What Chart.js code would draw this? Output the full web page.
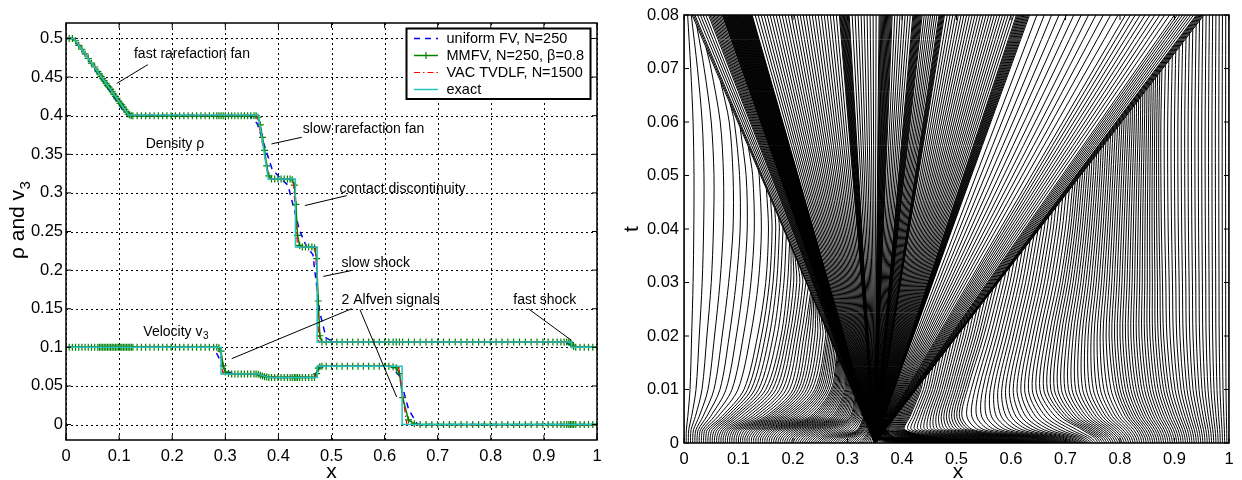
<!DOCTYPE html>
<html>
<head>
  <meta charset="utf-8">
  <style>
    body { margin: 0; background: #fff; }
    #leftChart { position: absolute; left: 0; top: 0; }
    #rightChart { position: absolute; left: 620px; top: 0; }
  </style>
</head>
<body>
  <canvas id="leftChart" width="615" height="480"></canvas>
  <canvas id="rightChart" width="622" height="480"></canvas>

  <script src="https://cdn.jsdelivr.net/npm/chart.js"></script>
  <script>
    const FONT = '"Liberation Sans", Arial, Helvetica, sans-serif';

    // ---- ticks ----
    const X_TICKS = [0, 0.1, 0.2, 0.3, 0.4, 0.5, 0.6, 0.7, 0.8, 0.9, 1];
    const X_TICK_LABELS = ['0', '0.1', '0.2', '0.3', '0.4', '0.5', '0.6', '0.7', '0.8', '0.9', '1'];
    const RHO_TICKS = [0, 0.05, 0.1, 0.15, 0.2, 0.25, 0.3, 0.35, 0.4, 0.45, 0.5];
    const RHO_TICK_LABELS = ['0', '0.05', '0.1', '0.15', '0.2', '0.25', '0.3', '0.35', '0.4', '0.45', '0.5'];
    const T_TICKS = [0, 0.01, 0.02, 0.03, 0.04, 0.05, 0.06, 0.07, 0.08];
    const T_TICK_LABELS = ['0', '0.01', '0.02', '0.03', '0.04', '0.05', '0.06', '0.07', '0.08'];

    const LEGEND_LABELS = ['uniform FV, N=250', 'MMFV, N=250, \u03b2=0.8', 'VAC TVDLF, N=1500', 'exact'];

    // ---- left panel: exact solution ----
    const EXACT_RHO_X = [0, 0.015, 0.118, 0.362, 0.381, 0.432, 0.432, 0.473, 0.473, 0.952, 0.952, 1];
    const EXACT_RHO   = [0.5, 0.5, 0.401, 0.401, 0.318, 0.318, 0.23, 0.23, 0.107, 0.107, 0.1, 0.1];
    const EXACT_V3_X  = [0, 0.292, 0.292, 0.362, 0.381, 0.473, 0.473, 0.633, 0.633, 1];
    const EXACT_V3    = [0.1, 0.1, 0.0655, 0.0655, 0.061, 0.061, 0.0755, 0.0755, 0, 0];

    // uniform FV, N=250
    const FV_RHO_X = [0, 0.012, 0.03, 0.108, 0.128, 0.345, 0.36, 0.388, 0.405, 0.418, 0.44, 0.452, 0.465, 0.478, 0.49, 0.505, 0.935, 0.965, 1];
    const FV_RHO   = [0.5, 0.5, 0.485, 0.406, 0.4, 0.4, 0.39, 0.331, 0.318, 0.31, 0.251, 0.232, 0.22, 0.145, 0.112, 0.107, 0.107, 0.1, 0.1];
    const FV_V3_X  = [0, 0.278, 0.3, 0.315, 0.36, 0.392, 0.462, 0.485, 0.612, 0.628, 0.645, 0.662, 1];
    const FV_V3    = [0.1, 0.1, 0.07, 0.0655, 0.065, 0.061, 0.061, 0.0755, 0.0755, 0.063, 0.02, 0, 0];

    // VAC TVDLF, N=1500
    const VAC_RHO_X = [0, 0.016, 0.118, 0.36, 0.382, 0.428, 0.436, 0.47, 0.476, 0.948, 0.955, 1];
    const VAC_RHO   = [0.5, 0.5, 0.401, 0.401, 0.318, 0.318, 0.23, 0.23, 0.107, 0.107, 0.1, 0.1];
    const VAC_V3_X  = [0, 0.289, 0.296, 0.362, 0.381, 0.469, 0.476, 0.626, 0.642, 1];
    const VAC_V3    = [0.1, 0.1, 0.0655, 0.0655, 0.061, 0.061, 0.0755, 0.0755, 0, 0];

    // MMFV, N=250 (markers sit on the final adaptive mesh)
    const MM_X = [
      0, 0.006, 0.012, 0.018, 0.024, 0.03, 0.036, 0.042, 0.048, 0.054, 0.06,
      0.063, 0.066, 0.069, 0.072, 0.075, 0.078, 0.081, 0.084, 0.087, 0.09, 0.093, 0.096, 0.099, 0.102, 0.105, 0.108, 0.111, 0.114, 0.117, 0.12, 0.123, 0.126,
      0.134, 0.142, 0.15, 0.158, 0.166, 0.174, 0.182, 0.19, 0.198, 0.206, 0.214, 0.222, 0.23, 0.238, 0.246, 0.254, 0.262, 0.27, 0.278,
      0.284, 0.288, 0.292, 0.296, 0.3, 0.306, 0.312, 0.318, 0.324, 0.33, 0.336, 0.342, 0.348, 0.354,
      0.358, 0.362, 0.366, 0.37, 0.374, 0.378, 0.382, 0.387, 0.393, 0.399, 0.405, 0.411, 0.417, 0.422, 0.426, 0.43, 0.433, 0.436, 0.44, 0.445, 0.451, 0.457, 0.463, 0.468, 0.472, 0.475, 0.478, 0.482,
      0.49, 0.5, 0.51, 0.52, 0.53, 0.54, 0.55, 0.56, 0.57, 0.58, 0.59, 0.6, 0.608, 0.616, 0.622, 0.628, 0.634,
      0.645, 0.656, 0.667, 0.678, 0.689, 0.7, 0.711, 0.722, 0.733, 0.744, 0.755, 0.766, 0.777, 0.788, 0.799, 0.81, 0.821, 0.832, 0.843, 0.854, 0.865, 0.876, 0.887, 0.898, 0.908, 0.917, 0.925, 0.932, 0.938, 0.943,
      0.947, 0.95, 0.953, 0.956, 0.96, 0.968, 0.976, 0.984, 0.992, 1
    ];
    const MM_RHO = [
      0.5, 0.5, 0.5, 0.497, 0.491, 0.486, 0.48, 0.474, 0.468, 0.463, 0.457,
      0.454, 0.451, 0.448, 0.445, 0.442, 0.439, 0.437, 0.434, 0.431, 0.428, 0.425, 0.422, 0.419, 0.416, 0.414, 0.411, 0.408, 0.405, 0.402, 0.401, 0.4, 0.4,
      0.4, 0.4, 0.4, 0.4, 0.4, 0.4, 0.4, 0.4, 0.4, 0.4, 0.4, 0.4, 0.4, 0.4, 0.4, 0.4, 0.4, 0.4, 0.4,
      0.4, 0.4, 0.4, 0.4, 0.4, 0.4, 0.4, 0.4, 0.4, 0.4, 0.4, 0.4, 0.4, 0.4,
      0.4, 0.398, 0.388, 0.372, 0.355, 0.335, 0.322, 0.318, 0.318, 0.318, 0.318, 0.318, 0.318, 0.318, 0.317, 0.31, 0.285, 0.245, 0.232, 0.23, 0.23, 0.23, 0.23, 0.229, 0.215, 0.16, 0.115, 0.107,
      0.107, 0.107, 0.107, 0.107, 0.107, 0.107, 0.107, 0.107, 0.107, 0.107, 0.107, 0.107, 0.107, 0.107, 0.107, 0.107, 0.107,
      0.107, 0.107, 0.107, 0.107, 0.107, 0.107, 0.107, 0.107, 0.107, 0.107, 0.107, 0.107, 0.107, 0.107, 0.107, 0.107, 0.107, 0.107, 0.107, 0.107, 0.107, 0.107, 0.107, 0.107, 0.107, 0.107, 0.107, 0.107, 0.107, 0.107,
      0.107, 0.106, 0.103, 0.101, 0.1, 0.1, 0.1, 0.1, 0.1, 0.1
    ];
    const MM_V3 = [
      0.1, 0.1, 0.1, 0.1, 0.1, 0.1, 0.1, 0.1, 0.1, 0.1, 0.1,
      0.1, 0.1, 0.1, 0.1, 0.1, 0.1, 0.1, 0.1, 0.1, 0.1, 0.1, 0.1, 0.1, 0.1, 0.1, 0.1, 0.1, 0.1, 0.1, 0.1, 0.1, 0.1,
      0.1, 0.1, 0.1, 0.1, 0.1, 0.1, 0.1, 0.1, 0.1, 0.1, 0.1, 0.1, 0.1, 0.1, 0.1, 0.1, 0.1, 0.1, 0.1,
      0.1, 0.0995, 0.095, 0.076, 0.068, 0.066, 0.0655, 0.0655, 0.0655, 0.0655, 0.0655, 0.0655, 0.0655, 0.0655,
      0.0655, 0.065, 0.064, 0.063, 0.062, 0.0615, 0.061, 0.061, 0.061, 0.061, 0.061, 0.061, 0.061, 0.061, 0.061, 0.061, 0.061, 0.061, 0.061, 0.061, 0.061, 0.061, 0.061, 0.061, 0.066, 0.073, 0.075, 0.0755,
      0.0755, 0.0755, 0.0755, 0.0755, 0.0755, 0.0755, 0.0755, 0.0755, 0.0755, 0.0755, 0.0755, 0.0755, 0.0755, 0.075, 0.0735, 0.066, 0.035,
      0.006, 0.001, 0, 0, 0, 0, 0, 0, 0, 0, 0, 0, 0, 0, 0, 0, 0, 0, 0, 0, 0, 0, 0, 0, 0, 0, 0, 0, 0, 0,
      0, 0, 0, 0, 0, 0, 0, 0, 0, 0
    ];

    // annotations of the left panel
    const NOTE_TEXT = ['fast rarefaction fan', 'slow rarefaction fan', 'Density \u03c1', 'contact discontinuity', 'slow shock', '2 Alfven signals', 'Velocity v', 'fast shock'];
    const NOTE_SUB  = ['', '', '', '', '', '', '3', ''];
    const NOTE_X    = [0.128, 0.446, 0.150, 0.515, 0.519, 0.519, 0.1456, 0.8424];
    const NOTE_Y    = [0.480, 0.383, 0.3634, 0.3043, 0.209, 0.1607, 0.1198, 0.1607];
    const ARROW_X0  = [0.154, 0.444, 0.5286, 0.538, 0.538, 0.5537, 0.8707];
    const ARROW_Y0  = [0.466, 0.372, 0.2965, 0.1995, 0.15, 0.1487, 0.15];
    const ARROW_X1  = [0.0955, 0.387, 0.45, 0.4846, 0.312, 0.6227, 0.952];
    const ARROW_Y1  = [0.4417, 0.3634, 0.2836, 0.1918, 0.0853, 0.0357, 0.109];

    // ---- right panel: mesh trajectories ----
    const MESH_TIMES = [0, 0.001, 0.0025, 0.005, 0.01, 0.02, 0.03, 0.04, 0.05, 0.06, 0.07, 0.08];
    const FAN_ORIGIN = 0.35;   // initial discontinuity

    // wave fan: [ray index, x reached at t = 0.08]; first ray = fast rarefaction head, last = fast shock
    const RAY_TOP = [[0, 0.015], [2, 0.02], [7, 0.045], [17, 0.07], [71, 0.125], [100, 0.285], [112, 0.303],
                     [122, 0.358], [136, 0.382], [144, 0.42], [154, 0.437], [162, 0.468], [168, 0.478],
                     [194, 0.61], [206, 0.634], [219, 0.81], [229, 0.9], [237, 0.94], [244, 0.954]];

    // mesh lines starting left of the discontinuity: [line index, x] per time level
    const LEFT_0000 = [[0, 0], [87, 0.348]];
    const LEFT_0010 = [[0, 0], [30, 0.12], [40, 0.162], [50, 0.205], [60, 0.25], [70, 0.29], [80, 0.33], [87, 0.349]];
    const LEFT_0025 = [[0, 0], [3, 0.013], [5, 0.022], [10, 0.043], [16, 0.07], [24, 0.103], [32, 0.14], [40, 0.176], [50, 0.225], [60, 0.27], [70, 0.318], [80, 0.34], [87, 0.35]];
    const LEFT_0050 = [[0, 0], [3, 0.021], [5, 0.035], [10, 0.07], [16, 0.1], [24, 0.15], [32, 0.19], [40, 0.232], [50, 0.272], [60, 0.305], [70, 0.33], [87, 0.35]];
    const LEFT_0100 = [[0, 0], [3, 0.033], [5, 0.055], [10, 0.11], [16, 0.15], [24, 0.2], [32, 0.24], [40, 0.27], [50, 0.295], [60, 0.315], [87, 0.35]];
    const LEFT_0200 = [[0, 0], [3, 0.042], [5, 0.07], [10, 0.135], [16, 0.178], [24, 0.22], [32, 0.26], [40, 0.285], [87, 0.34]];
    const LEFT_0300 = [[0, 0], [3, 0.05], [5, 0.082], [10, 0.15], [16, 0.19], [24, 0.235], [87, 0.33]];
    const LEFT_0400 = [[0, 0], [3, 0.054], [5, 0.09], [10, 0.155], [16, 0.195], [87, 0.32]];
    const LEFT_0500 = [[0, 0], [3, 0.055], [5, 0.09], [10, 0.15], [16, 0.19], [87, 0.3]];
    const LEFT_0600 = [[0, 0], [3, 0.05], [5, 0.083], [10, 0.13], [16, 0.17], [87, 0.28]];
    const LEFT_0700 = [[0, 0], [3, 0.037], [5, 0.062], [10, 0.1], [16, 0.14], [87, 0.26]];
    const LEFT_0800 = [[0, 0], [3, 0.02], [5, 0.033], [10, 0.06], [16, 0.1], [87, 0.24]];

    // mesh lines starting right of the discontinuity
    const RIGHT_0000 = [[88, 0.352], [250, 1]];
    const RIGHT_0010 = [[88, 0.352], [110, 0.362], [130, 0.39], [150, 0.47], [170, 0.63], [190, 0.753], [210, 0.838], [230, 0.919], [250, 1]];
    const RIGHT_0025 = [[88, 0.352], [130, 0.37], [150, 0.405], [170, 0.53], [190, 0.73], [210, 0.83], [230, 0.915], [250, 1]];
    const RIGHT_0050 = [[88, 0.352], [130, 0.375], [150, 0.415], [170, 0.51], [190, 0.69], [210, 0.81], [230, 0.905], [250, 1]];
    const RIGHT_0100 = [[88, 0.352], [130, 0.385], [150, 0.435], [170, 0.52], [190, 0.66], [210, 0.79], [230, 0.89], [250, 1]];
    const RIGHT_0200 = [[88, 0.352], [130, 0.395], [150, 0.455], [170, 0.55], [190, 0.67], [210, 0.78], [230, 0.88], [250, 1]];
    const RIGHT_0300 = [[88, 0.352], [130, 0.4], [150, 0.47], [170, 0.575], [190, 0.69], [210, 0.785], [230, 0.878], [250, 1]];
    const RIGHT_0400 = [[88, 0.352], [130, 0.405], [150, 0.48], [170, 0.595], [190, 0.705], [210, 0.79], [230, 0.876], [250, 1]];
    const RIGHT_0500 = [[88, 0.352], [130, 0.41], [150, 0.49], [170, 0.61], [190, 0.715], [210, 0.795], [230, 0.875], [250, 1]];
    const RIGHT_0600 = [[88, 0.352], [130, 0.41], [150, 0.49], [170, 0.615], [190, 0.72], [210, 0.8], [230, 0.875], [250, 1]];
    const RIGHT_0700 = [[88, 0.352], [130, 0.41], [150, 0.49], [170, 0.615], [190, 0.72], [210, 0.8], [230, 0.877], [250, 1]];
    const RIGHT_0800 = [[88, 0.352], [130, 0.41], [150, 0.49], [170, 0.62], [190, 0.725], [210, 0.805], [230, 0.88], [250, 1]];

    const LEFT_LEVELS = [LEFT_0000, LEFT_0010, LEFT_0025, LEFT_0050, LEFT_0100, LEFT_0200,
                         LEFT_0300, LEFT_0400, LEFT_0500, LEFT_0600, LEFT_0700, LEFT_0800];
    const RIGHT_LEVELS = [RIGHT_0000, RIGHT_0010, RIGHT_0025, RIGHT_0050, RIGHT_0100, RIGHT_0200,
                          RIGHT_0300, RIGHT_0400, RIGHT_0500, RIGHT_0600, RIGHT_0700, RIGHT_0800];

    // ---- styles ----
    const FV_STYLE    = { color: '#0000ff', width: 1.5, dash: [6, 5] };
    const MM_STYLE    = { color: '#008000', width: 1.5, dash: [] };
    const VAC_STYLE   = { color: '#ff0000', width: 1.2, dash: [6, 3, 1.5, 3] };
    const EXACT_STYLE = { color: '#22c4c4', width: 1.5, dash: [] };

    Chart.defaults.font.family = FONT;
    Chart.defaults.color = '#000';

    function toPoints(xs, ys) {
      return xs.map((x, i) => ({ x: x, y: ys[i] }));
    }

    function lineSet(xs, ys, style, order, marker) {
      return {
        data: toPoints(xs, ys),
        borderColor: style.color,
        borderWidth: style.width,
        borderDash: style.dash,
        pointRadius: marker ? 3.5 : 0,
        pointStyle: 'cross',
        pointBorderColor: style.color,
        pointBorderWidth: 1.2,
        tension: 0,
        fill: false,
        order: order
      };
    }

    function axis(min, max, ticks, labels, fitSize, isX, pad) {
      return {
        type: 'linear',
        min: min,
        max: max,
        afterBuildTicks: s => { s.ticks = ticks.map(v => ({ value: v })); },
        afterFit: s => { if (isX) { s.height = fitSize; } else { s.width = fitSize; } },
        grid: { display: false, drawTicks: false },
        border: { display: false },
        ticks: {
          callback: (v, i) => labels[i],
          color: '#000',
          font: { family: FONT, size: 16.5 },
          padding: pad,
          maxRotation: 0,
          autoSkip: false
        }
      };
    }

    // dotted grid on tick positions
    const dottedGrid = {
      id: 'dottedGrid',
      beforeDatasetsDraw(chart) {
        const { ctx, chartArea: a, scales: { x, y } } = chart;
        ctx.save();
        ctx.strokeStyle = '#000';
        ctx.lineWidth = 1;
        ctx.setLineDash([2, 3]);
        ctx.beginPath();
        x.ticks.forEach(t => {
          const px = Math.round(x.getPixelForValue(t.value)) + 0.5;
          ctx.moveTo(px, a.top); ctx.lineTo(px, a.bottom);
        });
        y.ticks.forEach(t => {
          const py = Math.round(y.getPixelForValue(t.value)) + 0.5;
          ctx.moveTo(a.left, py); ctx.lineTo(a.right, py);
        });
        ctx.stroke();
        ctx.restore();
      }
    };

    // box with inward ticks on all four sides
    const boxFrame = {
      id: 'boxFrame',
      afterDatasetsDraw(chart) {
        const { ctx, chartArea: a, scales: { x, y } } = chart;
        ctx.save();
        ctx.strokeStyle = '#000';
        ctx.lineWidth = 1;
        ctx.beginPath();
        x.ticks.forEach(t => {
          const px = x.getPixelForValue(t.value);
          ctx.moveTo(px, a.bottom); ctx.lineTo(px, a.bottom - 5);
          ctx.moveTo(px, a.top); ctx.lineTo(px, a.top + 5);
        });
        y.ticks.forEach(t => {
          const py = y.getPixelForValue(t.value);
          ctx.moveTo(a.left, py); ctx.lineTo(a.left + 5, py);
          ctx.moveTo(a.right, py); ctx.lineTo(a.right - 5, py);
        });
        ctx.stroke();
        ctx.lineWidth = 1.5;
        ctx.strokeRect(a.left, a.top, a.right - a.left, a.bottom - a.top);
        ctx.restore();
      }
    };

    function drawSubText(ctx, text, sub, x, y, size) {
      ctx.font = size + 'px ' + FONT;
      ctx.fillText(text, x, y);
      if (sub) {
        const w = ctx.measureText(text).width;
        ctx.font = Math.round(size * 0.72) + 'px ' + FONT;
        ctx.fillText(sub, x + w + 0.5, y + size * 0.3);
      }
    }

    function legendSample(ctx, style, y, marker) {
      ctx.save();
      ctx.strokeStyle = style.color;
      ctx.lineWidth = style.width;
      ctx.setLineDash(style.dash);
      ctx.beginPath();
      ctx.moveTo(414, y); ctx.lineTo(438, y);
      ctx.stroke();
      if (marker) {
        ctx.setLineDash([]);
        ctx.lineWidth = 1.2;
        ctx.beginPath();
        ctx.moveTo(426, y - 3.5); ctx.lineTo(426, y + 3.5);
        ctx.moveTo(422.5, y); ctx.lineTo(429.5, y);
        ctx.stroke();
      }
      ctx.restore();
    }

    const leftDecor = {
      id: 'leftDecor',
      afterDraw(chart) {
        const { ctx, scales: { x, y } } = chart;
        ctx.save();
        ctx.fillStyle = '#000';
        ctx.strokeStyle = '#000';
        ctx.lineWidth = 1;

        // leader lines
        ctx.beginPath();
        ARROW_X0.forEach((x0, i) => {
          ctx.moveTo(x.getPixelForValue(x0), y.getPixelForValue(ARROW_Y0[i]));
          ctx.lineTo(x.getPixelForValue(ARROW_X1[i]), y.getPixelForValue(ARROW_Y1[i]));
        });
        ctx.stroke();

        // notes
        ctx.textAlign = 'left';
        ctx.textBaseline = 'middle';
        NOTE_TEXT.forEach((t, i) => {
          drawSubText(ctx, t, NOTE_SUB[i], x.getPixelForValue(NOTE_X[i]), y.getPixelForValue(NOTE_Y[i]), 14);
        });

        // legend
        ctx.fillStyle = '#fff';
        ctx.fillRect(406.5, 28.5, 184, 70.5);
        ctx.lineWidth = 2;
        ctx.strokeRect(406.5, 28.5, 184, 70.5);
        const rows = [38.5, 55.5, 72.5, 89.5];
        legendSample(ctx, FV_STYLE, rows[0], false);
        legendSample(ctx, MM_STYLE, rows[1], true);
        legendSample(ctx, VAC_STYLE, rows[2], false);
        legendSample(ctx, EXACT_STYLE, rows[3], false);
        ctx.fillStyle = '#000';
        ctx.font = '14.5px ' + FONT;
        ctx.textBaseline = 'middle';
        LEGEND_LABELS.forEach((l, i) => ctx.fillText(l, 446.5, rows[i]));

        // axis titles
        ctx.textAlign = 'center';
        ctx.textBaseline = 'alphabetic';
        ctx.font = '21px ' + FONT;
        ctx.fillText('x', 331.5, 478);
        ctx.translate(24, 220);
        ctx.rotate(-Math.PI / 2);
        ctx.textAlign = 'left';
        ctx.font = '21px ' + FONT;
        const w = ctx.measureText('\u03c1 and v').width + 9;
        drawSubText(ctx, '\u03c1 and v', '3', -w / 2, 0, 21);
        ctx.restore();
      }
    };

    const rightDecor = {
      id: 'rightDecor',
      afterDraw(chart) {
        const ctx = chart.ctx;
        ctx.save();
        ctx.fillStyle = '#000';
        ctx.textAlign = 'center';
        ctx.textBaseline = 'alphabetic';
        ctx.font = '21px ' + FONT;
        ctx.fillText('x', 338, 478);
        ctx.translate(18, 229);
        ctx.rotate(-Math.PI / 2);
        ctx.fillText('t', 0, 0);
        ctx.restore();
      }
    };

    // piecewise-linear lookup in an [index, x] table
    function lookup(table, idx) {
      for (let k = 1; k < table.length; k++) {
        const [i0, x0] = table[k - 1];
        const [i1, x1] = table[k];
        if (idx <= i1) {
          return x0 + (x1 - x0) * (idx - i0) / (i1 - i0);
        }
      }
      return table[table.length - 1][1];
    }

    const T_END = MESH_TIMES[MESH_TIMES.length - 1];
    const HEAD_TOP = RAY_TOP[0][1];
    const SHOCK_TOP = RAY_TOP[RAY_TOP.length - 1][1];

    function rayX(top, t) {
      return FAN_ORIGIN + (top - FAN_ORIGIN) * t / T_END;
    }

    // an outer mesh line, followed until the wave fan reaches it
    function outerLine(levels, idx, isLeft) {
      const pts = [];
      let prev = null;
      for (let k = 0; k < MESH_TIMES.length; k++) {
        const t = MESH_TIMES[k];
        const x = lookup(levels[k], idx);
        const gap = isLeft ? rayX(HEAD_TOP, t) - x : x - rayX(SHOCK_TOP, t);
        if (gap > 0) {
          pts.push({ x: x, y: t });
          prev = { x: x, t: t, gap: gap };
          continue;
        }
        if (prev) {
          const s = prev.gap / (prev.gap - gap);
          pts.push({ x: prev.x + s * (x - prev.x), y: prev.t + s * (t - prev.t) });
        }
        break;
      }
      return pts;
    }

    function meshLine(data) {
      return { data: data, borderColor: '#000', borderWidth: 1, pointRadius: 0, tension: 0.3, fill: false };
    }

    function initializeCharts() {
      new Chart(document.getElementById('leftChart'), {
        type: 'line',
        data: {
          datasets: [
            lineSet(EXACT_RHO_X, EXACT_RHO, EXACT_STYLE, 0, false),
            lineSet(EXACT_V3_X, EXACT_V3, EXACT_STYLE, 0, false),
            lineSet(VAC_RHO_X, VAC_RHO, VAC_STYLE, 1, false),
            lineSet(VAC_V3_X, VAC_V3, VAC_STYLE, 1, false),
            lineSet(MM_X, MM_RHO, MM_STYLE, 2, true),
            lineSet(MM_X, MM_V3, MM_STYLE, 2, true),
            lineSet(FV_RHO_X, FV_RHO, FV_STYLE, 3, false),
            lineSet(FV_V3_X, FV_V3, FV_STYLE, 3, false)
          ]
        },
        options: {
          responsive: false,
          animation: false,
          events: [],
          layout: { padding: { top: 23, right: 18, left: 0, bottom: 0 } },
          scales: {
            x: axis(0, 1, X_TICKS, X_TICK_LABELS, 40, true, 7),
            y: axis(-0.02, 0.52, RHO_TICKS, RHO_TICK_LABELS, 66, false, 3)
          },
          plugins: { legend: { display: false }, tooltip: { enabled: false } }
        },
        plugins: [dottedGrid, boxFrame, leftDecor]
      });

      const meshSets = [];
      const lastLeft = LEFT_0000[LEFT_0000.length - 1][0];
      const firstRight = RIGHT_0000[0][0];
      const lastRight = RIGHT_0000[RIGHT_0000.length - 1][0];
      for (let i = 0; i <= lastLeft; i++) {
        meshSets.push(meshLine(outerLine(LEFT_LEVELS, i, true)));
      }
      for (let i = firstRight; i <= lastRight; i++) {
        meshSets.push(meshLine(outerLine(RIGHT_LEVELS, i, false)));
      }
      const lastRay = RAY_TOP[RAY_TOP.length - 1][0];
      for (let r = 0; r <= lastRay; r++) {
        meshSets.push(meshLine([{ x: FAN_ORIGIN, y: 0 }, { x: lookup(RAY_TOP, r), y: T_END }]));
      }

      new Chart(document.getElementById('rightChart'), {
        type: 'line',
        data: { datasets: meshSets },
        options: {
          responsive: false,
          animation: false,
          events: [],
          layout: { padding: { top: 15, right: 13, left: 0, bottom: 0 } },
          scales: {
            x: axis(0, 1, X_TICKS, X_TICK_LABELS, 37, true, 7),
            y: axis(0, 0.08, T_TICKS, T_TICK_LABELS, 64, false, 5)
          },
          plugins: { legend: { display: false }, tooltip: { enabled: false } }
        },
        plugins: [boxFrame, rightDecor]
      });
    }

    initializeCharts();
  </script>
</body>
</html>
